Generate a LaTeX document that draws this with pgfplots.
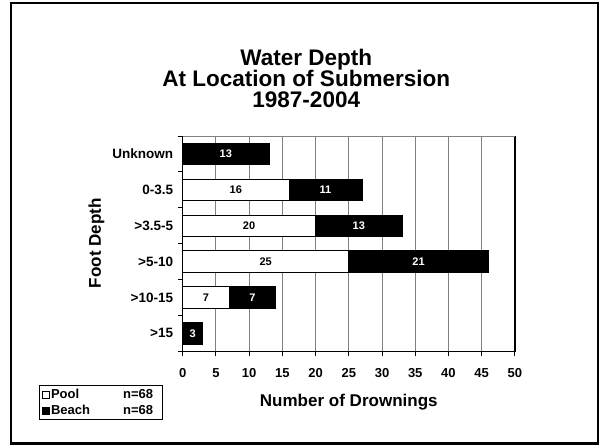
\documentclass[border=0pt]{standalone}
\usepackage{fontspec}
\setmainfont{Liberation Sans}
\usepackage{pgfplots}
\pgfplotsset{compat=1.18}
\begin{document}
\begin{tikzpicture}
\begin{axis}[
  name=ax,
  scale only axis, width=332pt, height=215pt,
  xbar stacked, bar width=0.6,
  xmin=0, xmax=50, ymin=-0.5, ymax=5.5, y dir=reverse,
  xtick={0,5,...,50},
  ytick={0,...,5},
  yticklabels={Unknown,0-3.5,>3.5-5,>5-10,>10-15,>15},
  minor ytick={-0.5,0.5,...,5.5},
  major y tick style={draw=none},
  minor y tick style={black, line width=1pt},
  minor tick length=5pt,
  major tick length=5pt,
  tick align=outside, xtick pos=bottom, ytick pos=left,
  xmajorgrids, grid style={gray, line width=1pt},
  axis line style={line width=1.2pt},
  tick style={black, line width=1pt},
  /pgf/number format/assume math mode=true,
  xticklabel style={font=\fontsize{13}{15}\selectfont\bfseries, yshift=-9pt},
  yticklabel style={font=\fontsize{13.5}{15}\selectfont\bfseries, xshift=-1pt},
  clip=false,
  legend style={at={(axis description cs:-0.431,-0.158)}, anchor=north west,
    draw=black, line width=1pt, font=\fontsize{13}{15}\selectfont\bfseries,
    inner xsep=2.5pt, inner ysep=2.5pt, row sep=3pt,
    nodes={inner sep=1pt}},
  legend cell align=left,
  legend image code/.code={\draw[#1, line width=0.6pt] (0pt,-3.5pt) rectangle (7pt,3.5pt);},
]
\addplot[fill=white, draw=black, line width=0.8pt] coordinates {(0,0) (16,1) (20,2) (25,3) (7,4) (0,5)};
\addplot[fill=black, draw=black, line width=0.8pt] coordinates {(13,0) (11,1) (13,2) (21,3) (7,4) (3,5)};
\legend{\makebox[72pt][l]{Pool}n=68\hspace*{6pt}, \makebox[72pt][l]{Beach}n=68\hspace*{6pt}}
\draw[gray, line width=1pt] (axis description cs:0,1) -- (axis description cs:1,1);
\node[font=\fontsize{22.5}{24}\selectfont\bfseries, anchor=base] at (axis description cs:0.372,1.330) {Water Depth};
\node[font=\fontsize{22.5}{24}\selectfont\bfseries, anchor=base] at (axis description cs:0.372,1.232) {At Location of Submersion};
\node[font=\fontsize{22.5}{24}\selectfont\bfseries, anchor=base] at (axis description cs:0.372,1.135) {1987-2004};
\node[font=\fontsize{17}{19}\selectfont\bfseries, anchor=base] at (axis description cs:0.5,-0.256) {Number of Drownings};
\node[font=\fontsize{17}{19}\selectfont\bfseries, anchor=base, rotate=90] at (axis description cs:-0.246,0.502) {Foot Depth};
\end{axis}
\begin{axis}[
  at={(ax.south west)}, anchor=south west,
  scale only axis, width=332pt, height=215pt,
  xmin=0, xmax=50, ymin=-0.5, ymax=5.5, y dir=reverse,
  hide axis, clip=false,
  nodes near coords, point meta=explicit symbolic,
  every node near coord/.append style={anchor=center, font=\fontsize{11}{12}\selectfont\bfseries},
]
\addplot[draw=none, mark=none, nodes near coords, every node near coord/.append style={text=black}] coordinates {(8,1) [16] (10,2) [20] (12.5,3) [25] (3.5,4) [7]};
\addplot[draw=none, mark=none, nodes near coords, every node near coord/.append style={text=white}] coordinates {(6.5,0) [13] (21.5,1) [11] (26.5,2) [13] (35.5,3) [21] (10.5,4) [7] (1.5,5) [3]};
\end{axis}
\draw[line width=2.5pt] ([xshift=-171.5pt,yshift=-92pt]ax.south west) rectangle ([xshift=83pt,yshift=133pt]ax.north east);
\path ([xshift=-182.5pt,yshift=-94pt]ax.south west) rectangle ([xshift=85pt,yshift=136pt]ax.north east);
\end{tikzpicture}
\end{document}
